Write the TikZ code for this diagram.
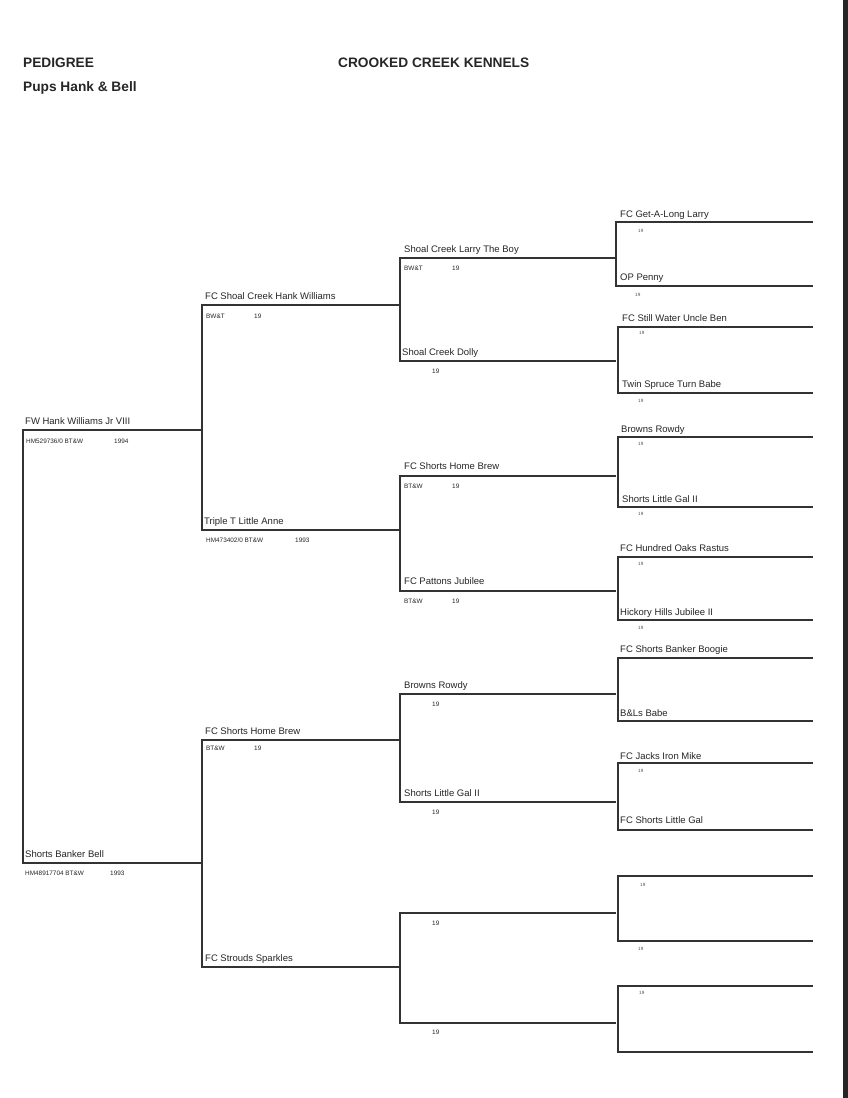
\documentclass[tikz,border=0pt]{standalone}
\usepackage{fontspec}
\setmainfont{Liberation Sans}
\begin{document}
\begin{tikzpicture}[x=1pt,y=-1pt,
  ln/.style={draw=black!80,line width=1.3pt},
  nm/.style={anchor=base west,inner sep=0pt,font=\fontsize{9.5}{11}\selectfont,text=black!85},
  sub/.style={anchor=base west,inner sep=0pt,font=\fontsize{6.4}{7}\selectfont,text=black!85},
  tiny/.style={anchor=base west,inner sep=0pt,font=\fontsize{4.6}{5}\selectfont,text=black!70},
  hd/.style={anchor=base west,inner sep=0pt,font=\fontsize{13.7}{15}\selectfont\bfseries,text=black!85}]
\useasboundingbox (0,0) rectangle (848,1098);
\fill[white] (0,0) rectangle (848,1098);
\fill[black!85] (843,0) rectangle (848,1098);
\newcommand{\pedpair}[5]{%
  \coordinate (#1-t) at (#2,#3); \coordinate (#1-b) at (#2,#4);
  \coordinate (#1-tr) at (#5,#3); \coordinate (#1-br) at (#5,#4);
  \draw[ln] (#1-tr) -- (#1-t) -- (#1-b) -- (#1-br);}
% header
\node[hd] (h1) at (23,67) {PEDIGREE};
\node[hd] (h2) at (338,67) {CROOKED CREEK KENNELS};
\node[hd] (h3) at (23,91) {Pups Hank \& Bell};
% generation 1
\pedpair{g0}{23}{430}{863}{202}
\node[nm] (s) at (25,424) {FW Hank Williams Jr VIII};
\node[sub] (s1) at (26,443) {HM529736/0 BT\&W};
\node[sub] (s2) at (114,443) {1994};
\node[nm] (d) at (25,857) {Shorts Banker Bell};
\node[sub] (d1) at (25,875) {HM48917704 BT\&W};
\node[sub] (d2) at (110,875) {1993};
% generation 2
\pedpair{g1a}{202}{305}{530}{400}
\pedpair{g1b}{202}{740}{967}{400}
\node[nm] (ss) at (205,299) {FC Shoal Creek Hank Williams};
\node[sub] (ss1) at (206,318) {BW\&T};
\node[sub] (ss2) at (254,318) {19};
\node[nm] (sd) at (204,524) {Triple T Little Anne};
\node[sub] (sd1) at (206,542) {HM473402/0 BT\&W};
\node[sub] (sd2) at (295,542) {1993};
\node[nm] (ds) at (205,734) {FC Shorts Home Brew};
\node[sub] (ds1) at (206,750) {BT\&W};
\node[sub] (ds2) at (254,750) {19};
\node[nm] (dd) at (205,961) {FC Strouds Sparkles};
% generation 3
\pedpair{g2a}{400}{258}{361}{616}
\pedpair{g2b}{400}{476}{591}{616}
\pedpair{g2c}{400}{694}{802}{616}
\pedpair{g2d}{400}{913}{1023}{616}
\node[nm] (sss) at (404,252) {Shoal Creek Larry The Boy};
\node[sub] (sss1) at (404,270) {BW\&T};
\node[sub] (sss2) at (452,270) {19};
\node[nm] (ssd) at (402,355) {Shoal Creek Dolly};
\node[sub] (ssd2) at (432,373) {19};
\node[nm] (sds) at (404,469) {FC Shorts Home Brew};
\node[sub] (sds1) at (404,488) {BT\&W};
\node[sub] (sds2) at (452,488) {19};
\node[nm] (sdd) at (404,584) {FC Pattons Jubilee};
\node[sub] (sdd1) at (404,603) {BT\&W};
\node[sub] (sdd2) at (452,603) {19};
\node[nm] (dss) at (404,688) {Browns Rowdy};
\node[sub] (dss2) at (432,706) {19};
\node[nm] (dsd) at (404,796) {Shorts Little Gal II};
\node[sub] (dsd2) at (432,814) {19};
\node[sub] (dds2) at (432,925) {19};
\node[sub] (ddd2) at (432,1034) {19};
% generation 4
\pedpair{g3a}{616}{222}{286}{813}
\pedpair{g3b}{618}{327}{393}{813}
\pedpair{g3c}{618}{437}{507}{813}
\pedpair{g3d}{618}{557}{620}{813}
\pedpair{g3e}{618}{658}{721}{813}
\pedpair{g3f}{618}{763}{830}{813}
\pedpair{g3g}{618}{876}{941}{813}
\pedpair{g3h}{618}{986}{1052}{813}
\node[nm] (a1) at (620,217) {FC Get-A-Long Larry};
\node[tiny] (a1y) at (638,232) {19};
\node[nm] (a2) at (620,280) {OP Penny};
\node[tiny] (a2y) at (635,296) {19};
\node[nm] (b1) at (622,321) {FC Still Water Uncle Ben};
\node[tiny] (b1y) at (639,334) {19};
\node[nm] (b2) at (622,387) {Twin Spruce Turn Babe};
\node[tiny] (b2y) at (638,402) {19};
\node[nm] (c1) at (621,432) {Browns Rowdy};
\node[tiny] (c1y) at (638,445) {19};
\node[nm] (c2) at (622,502) {Shorts Little Gal II};
\node[tiny] (c2y) at (638,515) {19};
\node[nm] (d1a) at (620,551) {FC Hundred Oaks Rastus};
\node[tiny] (d1y) at (638,565) {19};
\node[nm] (d2a) at (620,615) {Hickory Hills Jubilee II};
\node[tiny] (d2y) at (638,629) {19};
\node[nm] (e1) at (620,652) {FC Shorts Banker Boogie};
\node[nm] (e2) at (620,716) {B\&Ls Babe};
\node[nm] (f1) at (620,759) {FC Jacks Iron Mike};
\node[tiny] (f1y) at (638,772) {19};
\node[nm] (f2) at (620,823) {FC Shorts Little Gal};
\node[tiny] (g1y) at (640,886) {19};
\node[tiny] (g2y) at (638,950) {19};
\node[tiny] (h1y) at (639,994) {19};
\end{tikzpicture}
\end{document}
